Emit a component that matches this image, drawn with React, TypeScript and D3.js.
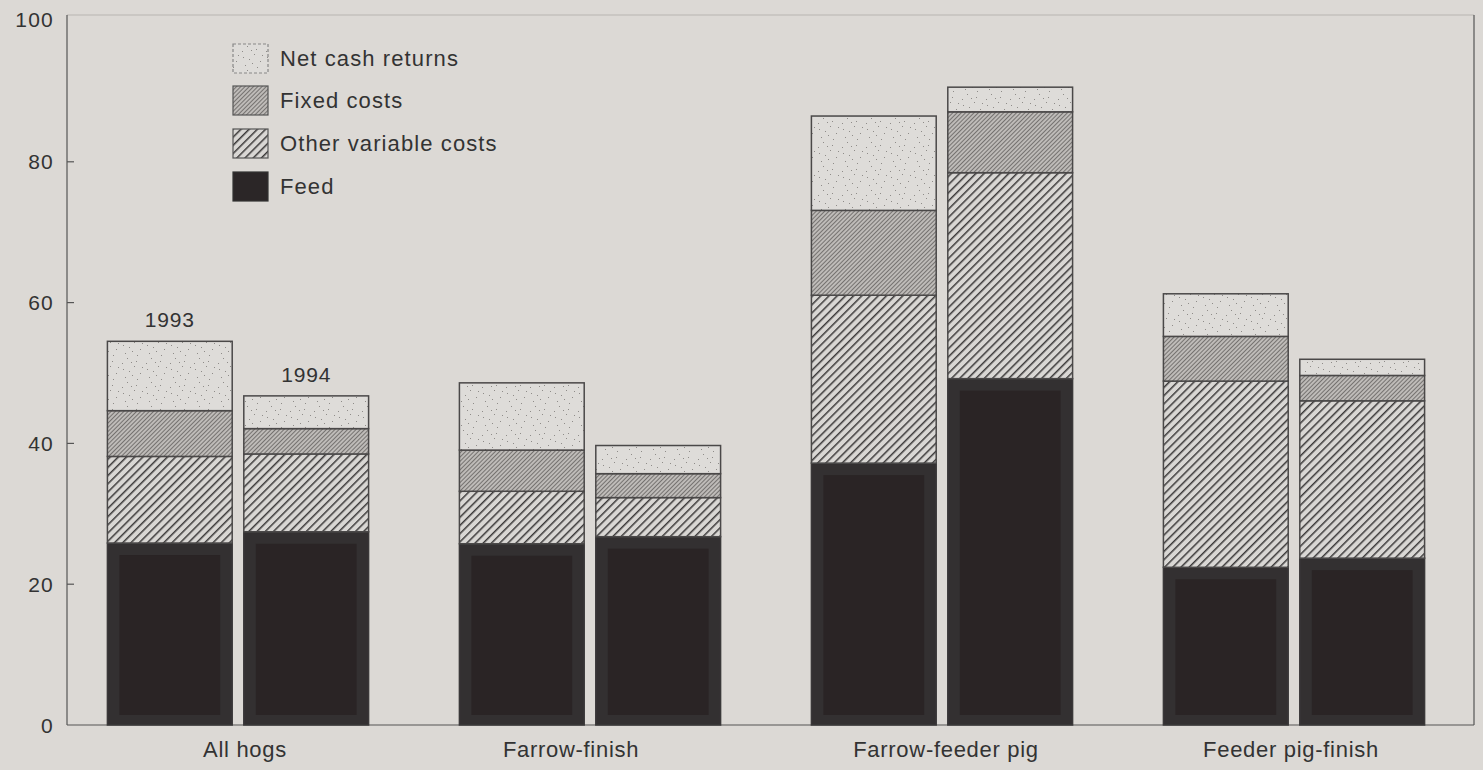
import React from "react";
import * as d3 from "d3";

const categories = ["All hogs", "Farrow-finish", "Farrow-feeder pig", "Feeder pig-finish"];
const years = ["1993", "1994"];
const seriesNames = ["Feed", "Other variable costs", "Fixed costs", "Net cash returns"];
// values per category per year
const feed = [[25.85, 27.45], [25.75, 26.75], [37.2, 49.2], [22.4, 23.7]];
const otherVariable = [[12.3, 11.05], [7.45, 5.55], [23.85, 29.25], [26.45, 22.35]];
const fixedCosts = [[6.5, 3.6], [5.85, 3.4], [12.05, 8.65], [6.35, 3.6]];
const netCash = [[9.85, 4.65], [9.55, 4.0], [13.4, 3.5], [6.05, 2.3]];
const yTicks = [0, 20, 40, 60, 80, 100];

const W = 1483, H = 770;
const left = 67, right = 1474, frameTop = 15, bottom = 725;
const BG = "#dcd9d5";
const FONT = "'Liberation Sans', Arial, Helvetica, sans-serif";
const labelShift = [7, -19, 4, -3];

const fills = ["#2b2627", "url(#otherPat)", "url(#fixedPat)", "url(#netPat)"];

export default function App() {
  const y = d3.scaleLinear().domain([0, 100]).range([bottom, 21]);
  const x0 = d3.scaleBand<string>().domain(categories).range([62, 1470]).paddingInner(0.258).paddingOuter(0.129);
  const x1 = d3.scaleBand<string>().domain(years).range([0, x0.bandwidth()]).paddingInner(0.085);

  const rows = categories.map((c, ci) =>
    years.map((yr, yi) => ({
      cat: c,
      year: yr,
      vals: [feed[ci][yi], otherVariable[ci][yi], fixedCosts[ci][yi], netCash[ci][yi]],
    }))
  ).flat();

  const stack = d3.stack<any>().keys([0, 1, 2, 3] as any).value((d: any, k: any) => d.vals[k]);
  const stacked = stack(rows as any);

  const dotPts = [[2, 3], [9, 11], [5, 17], [14, 6], [17, 19], [3, 9], [11, 2], [20, 13], [7, 22], [16, 1], [22, 7], [12, 15]];
  const dots = dotPts.map(([a, b], i) => <rect key={i} x={a} y={b} width={1} height={1} fill="#8f8c89" />);

  const legendY = [58, 100, 143, 186];
  const legendOrder = [3, 2, 1, 0];

  return (
    <svg width={W} height={H} style={{ display: "block", position: "absolute", left: 0, top: 0 }}>
      <defs>
        <pattern id="otherPat" patternUnits="userSpaceOnUse" width={5.8} height={5.8} patternTransform="rotate(45)">
          <rect width={5.8} height={5.8} fill="#d9d7d4" />
          <rect x={0} y={0} width={1.5} height={5.8} fill="#3c3a3a" />
        </pattern>
        <pattern id="fixedPat" patternUnits="userSpaceOnUse" width={3} height={3} patternTransform="rotate(45)">
          <rect width={3} height={3} fill="#bebbb8" />
          <rect x={0} y={0} width={1} height={3} fill="#757270" />
        </pattern>
        <pattern id="netPat" patternUnits="userSpaceOnUse" width={24} height={24}>
          <rect width={24} height={24} fill="#dedcd9" />
          {dots}
        </pattern>
      </defs>
      <rect x={0} y={0} width={W} height={H} fill={BG} />

      {/* frame */}
      <line x1={left} x2={right} y1={frameTop} y2={frameTop} stroke="#b8b5b1" strokeWidth={1.2} />
      <line x1={right} x2={right} y1={frameTop} y2={bottom} stroke="#555" strokeWidth={1.2} />
      <line x1={left} x2={left} y1={frameTop} y2={bottom} stroke="#555" strokeWidth={1.2} />
      <line x1={left} x2={right} y1={bottom} y2={bottom} stroke="#555" strokeWidth={1.2} />

      {yTicks.map((t) => (
        <g key={t}>
          {t > 0 && t < 100 && <line x1={left} x2={left + 7} y1={y(t)} y2={y(t)} stroke="#555" strokeWidth={1.2} />}
          <text x={54} y={t === 100 ? y(t) - 2 : y(t)} dy="0.36em" textAnchor="end" fontFamily={FONT} fontSize={21} letterSpacing={1.2} fill="#333">{t}</text>
        </g>
      ))}

      {/* bars */}
      {stacked.map((layer, li) => (
        <g key={li}>
          {layer.map((d: any, i: number) => {
            const r = rows[i];
            const bx = (x0(r.cat) as number) + (x1(r.year) as number);
            const bw = x1.bandwidth();
            const yTop = y(d[1]);
            const yBot = y(d[0]);
            if (li === 0) {
              return (
                <g key={i}>
                  <rect x={bx} y={yTop} width={bw} height={yBot - yTop} fill="#333031" stroke="#3a3839" strokeWidth={1.5} />
                  <rect x={bx + 12} y={yTop + 12} width={bw - 24} height={yBot - yTop - 22} fill="#2a2425" />
                </g>
              );
            }
            return (
              <rect key={i} x={bx} y={yTop} width={bw} height={yBot - yTop} fill={fills[li]} stroke="#4a4848" strokeWidth={1.5} />
            );
          })}
        </g>
      ))}

      {/* year labels on first group */}
      {years.map((yr, yi) => {
        const total = feed[0][yi] + otherVariable[0][yi] + fixedCosts[0][yi] + netCash[0][yi];
        const cx = (x0(categories[0]) as number) + (x1(yr) as number) + x1.bandwidth() / 2;
        return (
          <text key={yr} x={cx} y={y(total) - 14} textAnchor="middle" fontFamily={FONT} fontSize={21} letterSpacing={0.8} fill="#333">{yr}</text>
        );
      })}

      {/* category labels */}
      {categories.map((c, i) => (
        <text key={c} x={(x0(c) as number) + x0.bandwidth() / 2 + labelShift[i]} y={757} textAnchor="middle" fontFamily={FONT} fontSize={22} letterSpacing={0.7} fill="#333">{c}</text>
      ))}

      {/* legend */}
      {legendOrder.map((si, k) => (
        <g key={si}>
          <rect x={233} y={legendY[k] - 14} width={35} height={29} fill={fills[si]} stroke={si === 3 ? "#888" : si === 0 ? "#333" : "#555"} strokeWidth={1.2} strokeDasharray={si === 3 ? "3 2" : undefined} />
          <text x={280} y={legendY[k]} dy="0.36em" fontFamily={FONT} fontSize={22} letterSpacing={1.1} fill="#333">{seriesNames[si]}</text>
        </g>
      ))}
    </svg>
  );
}
